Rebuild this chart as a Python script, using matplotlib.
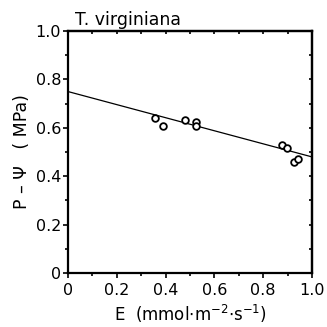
import matplotlib
matplotlib.use("Agg")
import matplotlib.pyplot as plt
import numpy as np
from matplotlib.ticker import MultipleLocator

E = [0.357, 0.389, 0.480, 0.525, 0.525, 0.877, 0.898, 0.926, 0.943]
PPsi = [0.640, 0.607, 0.632, 0.624, 0.607, 0.529, 0.517, 0.459, 0.471]
fit_intercept = 0.75
fit_slope = -0.27

xticks = [0, 0.2, 0.4, 0.6, 0.8, 1.0]
xticklabels = ["0", "0.2", "0.4", "0.6", "0.8", "1.0"]
yticks = [0, 0.2, 0.4, 0.6, 0.8, 1.0]
yticklabels = ["0", "0.2", "0.4", "0.6", "0.8", "1.0"]

plt.rcParams['font.family'] = ['DejaVu Sans']
fig = plt.figure(figsize=(3.27, 3.27), dpi=100)
ax = fig.add_axes([0.208, 0.165, 0.746, 0.74])

xs = np.array([0.0, 1.0])
ax.plot(xs, fit_intercept + fit_slope * xs, color='black', lw=0.9, zorder=2)
ax.plot(E, PPsi, linestyle='none', marker='o', markersize=4.8, markerfacecolor='white',
        markeredgecolor='black', markeredgewidth=1.3, zorder=3)

ax.set_xlim(0, 1.0)
ax.set_ylim(0, 1.0)
ax.set_xticks(xticks)
ax.set_xticklabels(xticklabels)
ax.set_yticks(yticks)
ax.set_yticklabels(yticklabels)
ax.xaxis.set_minor_locator(MultipleLocator(0.1))
ax.yaxis.set_minor_locator(MultipleLocator(0.1))
ax.tick_params(which='both', direction='out', width=1.2, labelsize=11.5)
ax.tick_params(axis='x', pad=4)
ax.tick_params(axis='y', pad=1.5)
ax.tick_params(which='major', length=3.5)
ax.tick_params(which='minor', length=2)
for s in ax.spines.values():
    s.set_linewidth(1.6)

# top and right: small inward ticks, no labels
top = ax.secondary_xaxis('top')
top.set_xticks(xticks)
top.xaxis.set_minor_locator(MultipleLocator(0.1))
top.tick_params(which='both', direction='in', length=2, width=1.2, labeltop=False)
top.spines['top'].set_linewidth(1.6)
right = ax.secondary_yaxis('right')
right.set_yticks(yticks)
right.yaxis.set_minor_locator(MultipleLocator(0.1))
right.tick_params(which='both', direction='in', length=2, width=1.2, labelright=False)
right.spines['right'].set_linewidth(1.6)

ax.set_xlabel(r"E  (mmol$\cdot$m$^{-2}$$\cdot$s$^{-1}$)", fontsize=12, labelpad=3)
ax.set_ylabel("P – Ψ   ( MPa)", fontsize=12.5, labelpad=3)
ax.text(0.03, 1.01, "T. virginiana", transform=ax.transAxes, fontsize=12.5, ha='left', va='bottom')

fig.savefig("out.png", dpi=100)
